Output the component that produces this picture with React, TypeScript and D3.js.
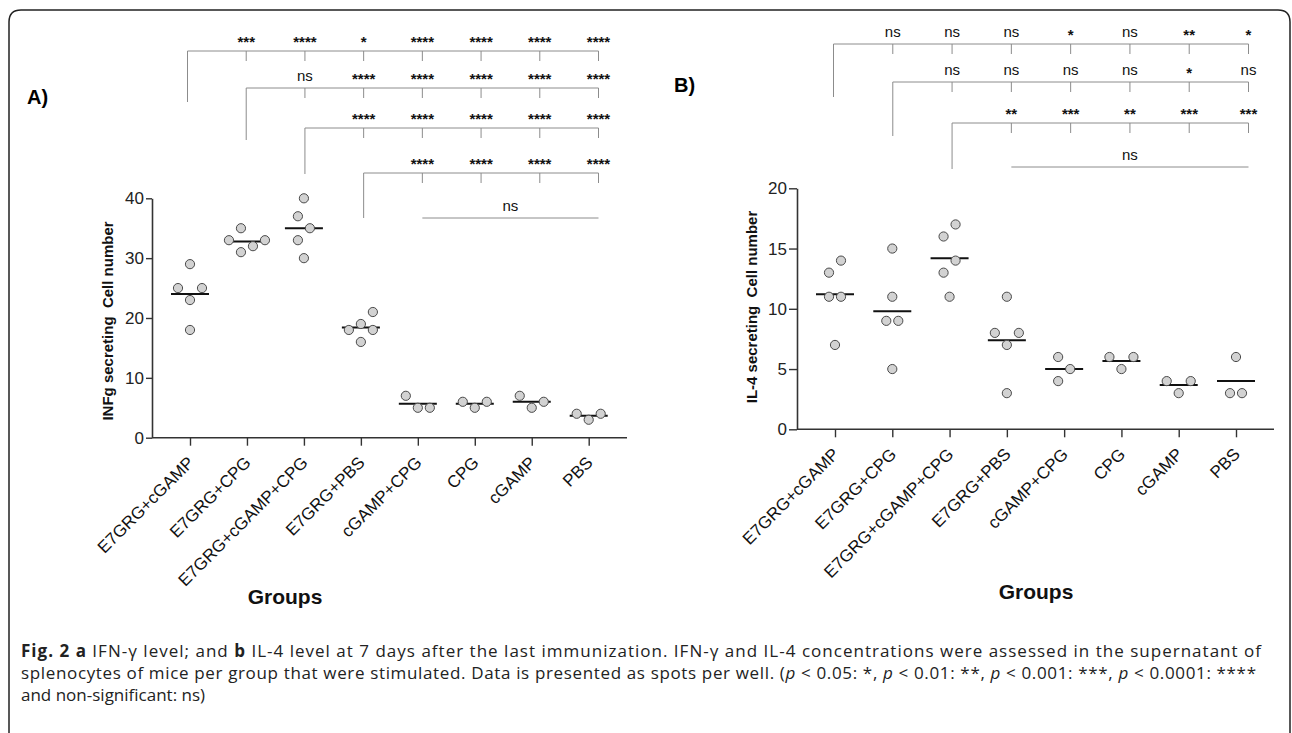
import { useEffect, useRef } from 'react';
import * as d3 from 'd3';

const groups = ['E7GRG+cGAMP', 'E7GRG+CPG', 'E7GRG+cGAMP+CPG', 'E7GRG+PBS', 'cGAMP+CPG', 'CPG', 'cGAMP', 'PBS'];

// spots per well, one array per group
const ifngValues = [
  [29, 25, 25, 23, 18],
  [35, 33, 33, 32, 31],
  [40, 37, 35, 33, 30],
  [21, 19, 18, 18, 16],
  [7, 5, 5],
  [6, 5, 6],
  [7, 5, 6],
  [4, 3, 4],
];
const il4Values = [
  [14, 13, 11, 11, 7],
  [15, 11, 9, 9, 5],
  [17, 16, 14, 13, 11],
  [11, 8, 8, 7, 3],
  [6, 5, 4],
  [6, 5, 6],
  [4, 3, 4],
  [6, 3, 3],
];
const ifngTicks = [0, 10, 20, 30, 40];
const il4Ticks = [0, 5, 10, 15, 20];

// row i compares group i with groups i+1..7
const ifngSig = [
  ['***', '****', '*', '****', '****', '****', '****'],
  ['ns', '****', '****', '****', '****', '****'],
  ['****', '****', '****', '****', '****'],
  ['****', '****', '****', '****'],
];
const ifngNsFrom = 4;
const il4Sig = [
  ['ns', 'ns', 'ns', '*', 'ns', '**', '*'],
  ['ns', 'ns', 'ns', 'ns', '*', 'ns'],
  ['**', '***', '**', '***', '***'],
];
const il4NsFrom = 3;

const FONT = '"Liberation Sans", Arial, Helvetica, sans-serif';

interface PanelCfg {
  letter: string;
  letterPos: [number, number];
  values: number[][];
  ticks: number[];
  yLabel: string;
  yLabelPos: [number, number];
  groupsPos: [number, number];
  axisX: [number, number];
  yRange: [number, number];
  catRange: [number, number];
  bracketRange: [number, number];
  rows: number[];
  legs: number[];
  sig: string[][];
  nsFrom: number;
  nsY: number;
  tickLen: number;
}

const panels: PanelCfg[] = [
  {
    letter: 'A)', letterPos: [27, 104], values: ifngValues, ticks: ifngTicks,
    yLabel: 'INFg secreting  Cell number', yLabelPos: [113, 321], groupsPos: [285, 604],
    axisX: [152, 627], yRange: [437.7, 198.3], catRange: [190, 588.7], bracketRange: [187.5, 598.5],
    rows: [51, 88, 128, 173], legs: [51, 52, 46, 45], sig: ifngSig, nsFrom: ifngNsFrom, nsY: 218, tickLen: 6,
  },
  {
    letter: 'B)', letterPos: [674, 91.5], values: il4Values, ticks: il4Ticks,
    yLabel: 'IL-4 secreting  Cell number', yLabelPos: [757, 307], groupsPos: [1036, 599],
    axisX: [797, 1274], yRange: [429.3, 188.3], catRange: [835, 1236], bracketRange: [833.5, 1248.5],
    rows: [44, 82, 123], legs: [53, 54, 46], sig: il4Sig, nsFrom: il4NsFrom, nsY: 167, tickLen: 8,
  },
];

// simple beeswarm: stack upward, slot step 6px, then center every cluster
function swarm(vals: number[], y: d3.ScaleLinear<number, number>) {
  const step = 6, tx = 12, ty = 13;
  const pts = vals.map((v, i) => ({ v, i, py: y(v), dx: 0 }));
  const order = [...pts].sort((a, b) => b.py - a.py || a.i - b.i);
  const placed: typeof pts = [];
  order.forEach(p => {
    const ok = (x: number) => placed.every(q => Math.abs(q.py - p.py) >= ty || Math.abs(q.dx - x) >= tx - 1e-6);
    for (let k = 0; k < 20; k++) {
      const cands = k === 0 ? [0] : [k * step, -k * step];
      const hit = cands.find(ok);
      if (hit !== undefined) { p.dx = hit; break; }
    }
    placed.push(p);
  });
  let cluster: typeof pts = [];
  const flush = () => {
    if (!cluster.length) return;
    const ext = d3.extent(cluster, d => d.dx) as [number, number];
    const shift = -(ext[0] + ext[1]) / 2;
    cluster.forEach(d => { d.dx += shift; });
    cluster = [];
  };
  order.forEach((p, j) => {
    if (j > 0 && Math.abs(p.py - order[j - 1].py) >= ty) flush();
    cluster.push(p);
  });
  flush();
  return pts;
}

function drawPanel(svg: d3.Selection<SVGSVGElement, unknown, null, undefined>, cfg: PanelCfg) {
  const g = svg.append('g').style('font-family', FONT);
  const y = d3.scaleLinear().domain([0, d3.max(cfg.ticks) as number]).range(cfg.yRange);
  const x = d3.scalePoint<string>().domain(groups).range(cfg.catRange);
  const bx = d3.scalePoint<string>().domain(groups).range(cfg.bracketRange);
  const y0 = y(0);

  // significance brackets
  const br = g.append('g').attr('stroke', '#8c8c8c').attr('stroke-width', 1).attr('fill', 'none');
  cfg.sig.forEach((labels, r) => {
    const ly = cfg.rows[r];
    const x0 = bx(groups[r]) as number;
    const x1 = bx(groups[groups.length - 1]) as number;
    br.append('path').attr('d', `M${x0},${ly + cfg.legs[r]}V${ly}H${x1}`);
    labels.forEach((lab, k) => {
      const cx = bx(groups[r + 1 + k]) as number;
      br.append('line').attr('x1', cx).attr('x2', cx).attr('y1', ly).attr('y2', ly + 10);
      const isNs = lab === 'ns';
      g.append('text')
        .attr('x', cx).attr('y', isNs ? ly - 7 : ly - 4)
        .attr('text-anchor', 'middle')
        .style('font-size', '15px')
        .style('font-weight', isNs ? 'normal' : 'bold')
        .attr('fill', '#111')
        .text(lab);
    });
  });
  const nx0 = bx(groups[cfg.nsFrom]) as number;
  const nx1 = bx(groups[groups.length - 1]) as number;
  br.append('line').attr('x1', nx0).attr('x2', nx1).attr('y1', cfg.nsY).attr('y2', cfg.nsY);
  g.append('text').attr('x', (nx0 + nx1) / 2).attr('y', cfg.nsY - 7)
    .attr('text-anchor', 'middle').style('font-size', '15px').attr('fill', '#111').text('ns');

  // axes
  const yAxis = g.append('g')
    .attr('transform', `translate(${cfg.axisX[0]},0)`)
    .call(d3.axisLeft(y).tickValues(cfg.ticks).tickSize(cfg.tickLen).tickSizeOuter(0).tickPadding(2));
  yAxis.select('.domain').attr('stroke', '#333').attr('stroke-width', 1.6);
  yAxis.selectAll('.tick line').attr('stroke', '#333').attr('stroke-width', 1.4);
  yAxis.selectAll('.tick text').style('font-size', '17px').style('font-family', FONT).attr('fill', '#222');

  g.append('line')
    .attr('x1', cfg.axisX[0]).attr('x2', cfg.axisX[1]).attr('y1', y0).attr('y2', y0)
    .attr('stroke', '#333').attr('stroke-width', 1.6);
  const xAxis = g.append('g')
    .attr('transform', `translate(0,${y0})`)
    .call(d3.axisBottom(x).tickSize(8).tickSizeOuter(0).tickFormat(() => ''));
  xAxis.select('.domain').remove();
  xAxis.selectAll('.tick line').attr('stroke', '#333').attr('stroke-width', 1.4);

  g.selectAll('.xlab')
    .data(groups)
    .enter().append('text')
    .attr('class', 'xlab')
    .attr('transform', d => `translate(${(x(d) as number) + 5},${y0 + 26}) rotate(-45)`)
    .attr('text-anchor', 'end')
    .style('font-size', '17px')
    .attr('fill', '#111')
    .text(d => d);

  // dots and mean lines
  cfg.values.forEach((vals, gi) => {
    const cx = x(groups[gi]) as number;
    const mean = d3.mean(vals) as number;
    g.append('line')
      .attr('x1', cx - 19).attr('x2', cx + 19).attr('y1', y(mean)).attr('y2', y(mean))
      .attr('stroke', '#111').attr('stroke-width', 2);
    g.selectAll(`.dot-${gi}`)
      .data(swarm(vals, y))
      .enter().append('circle')
      .attr('class', `dot-${gi}`)
      .attr('cx', d => cx + d.dx)
      .attr('cy', d => d.py)
      .attr('r', 4.6)
      .attr('fill', '#d2d2d2')
      .attr('stroke', '#4a4a4a')
      .attr('stroke-width', 1);
  });

  g.append('text')
    .attr('transform', `translate(${cfg.yLabelPos[0]},${cfg.yLabelPos[1]}) rotate(-90)`)
    .attr('text-anchor', 'middle')
    .attr('xml:space', 'preserve')
    .style('white-space', 'pre')
    .style('font-size', '15px').style('font-weight', 'bold').attr('fill', '#111')
    .text(cfg.yLabel);

  g.append('text')
    .attr('x', cfg.groupsPos[0]).attr('y', cfg.groupsPos[1])
    .attr('text-anchor', 'middle')
    .style('font-size', '21px').style('font-weight', 'bold').attr('fill', '#111')
    .text('Groups');

  g.append('text')
    .attr('x', cfg.letterPos[0]).attr('y', cfg.letterPos[1])
    .style('font-size', '20px').style('font-weight', 'bold').attr('fill', '#000')
    .text(cfg.letter);
}

export default function App() {
  const svgRef = useRef<SVGSVGElement>(null);

  useEffect(() => {
    if (!svgRef.current) return;
    const svg = d3.select(svgRef.current);
    svg.selectAll('*').remove();

    svg.append('path')
      .attr('d', 'M9,745V22Q9,10 21,10H1278Q1290,10 1290,22V745')
      .attr('fill', 'none').attr('stroke', '#222').attr('stroke-width', 1.5);

    panels.forEach(p => drawPanel(svg, p));

    const cap = svg.append('g')
      .style('font-family', '"Open Sans", "Noto Sans", sans-serif')
      .style('font-size', '17px')
      .attr('fill', '#222');

    const line1 = cap.append('text').attr('x', 21).attr('y', 657)
      .attr('textLength', 1240).attr('lengthAdjust', 'spacing');
    line1.append('tspan').style('font-weight', 'bold').text('Fig. 2 a');
    line1.append('tspan').text(' IFN-γ level; and ');
    line1.append('tspan').style('font-weight', 'bold').text('b');
    line1.append('tspan').text(' IL-4 level at 7 days after the last immunization. IFN-γ and IL-4 concentrations were assessed in the supernatant of');

    const line2 = cap.append('text').attr('x', 21).attr('y', 679)
      .attr('textLength', 1235).attr('lengthAdjust', 'spacing');
    const parts: [string, boolean][] = [
      ['splenocytes of mice per group that were stimulated. Data is presented as spots per well. (', false],
      ['p', true], [' < 0.05: *, ', false],
      ['p', true], [' < 0.01: **, ', false],
      ['p', true], [' < 0.001: ***, ', false],
      ['p', true], [' < 0.0001: ****', false],
    ];
    parts.forEach(([t, it]) => {
      line2.append('tspan').style('font-style', it ? 'italic' : 'normal').text(t);
    });

    cap.append('text').attr('x', 21).attr('y', 701).text('and non-significant: ns)');
  }, []);

  return (
    <svg
      ref={svgRef}
      width={1292}
      height={733}
      style={{ position: 'absolute', left: 0, top: 0, background: '#fff' }}
    ></svg>
  );
}
